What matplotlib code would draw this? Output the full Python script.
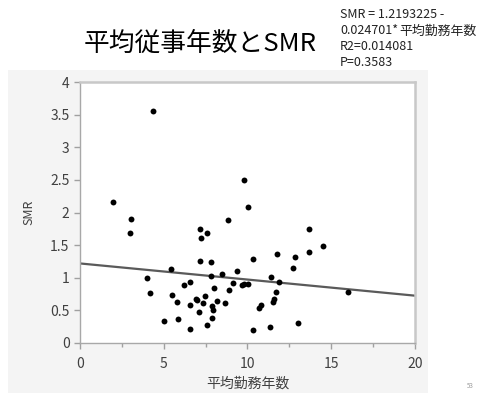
import numpy as np
import matplotlib.pyplot as plt
from matplotlib.patches import Rectangle
from matplotlib.ticker import MultipleLocator

plt.rcParams['font.family'] = ['Noto Sans CJK JP', 'DejaVu Sans']

# 平均勤務年数 と SMR の散布データ
years = [1.99, 3.04, 2.99, 4.38, 4.00, 4.20, 5.01, 5.41, 5.47, 5.79,
         5.83, 6.23, 6.57, 6.55, 6.55, 6.90, 7.00, 7.10, 7.16, 7.22,
         7.56, 7.16, 7.80, 7.80, 7.37, 7.49, 7.60, 7.86, 7.92, 7.86,
         7.98, 8.18, 8.50, 8.68, 8.82, 8.88, 9.12, 9.37, 9.65, 9.81,
         10.01, 9.81, 10.01, 10.31, 10.31, 10.69, 10.81, 11.32, 11.38, 11.50,
         11.58, 11.70, 11.78, 11.88, 12.69, 12.84, 13.01, 13.65, 13.70, 14.53,
         15.98]
smr = [2.16, 1.90, 1.69, 3.55, 0.99, 0.77, 0.33, 1.13, 0.74, 0.63,
       0.37, 0.89, 0.94, 0.59, 0.21, 0.68, 0.66, 0.47, 1.75, 1.61,
       1.68, 1.26, 1.24, 1.02, 0.62, 0.72, 0.27, 0.56, 0.51, 0.38,
       0.84, 0.65, 1.05, 0.61, 1.88, 0.81, 0.92, 1.10, 0.89, 0.90,
       0.91, 2.50, 2.08, 1.28, 0.20, 0.54, 0.59, 0.24, 1.01, 0.63,
       0.67, 0.78, 1.36, 0.93, 1.15, 1.32, 0.30, 1.39, 1.74, 1.48,
       0.78]

# 回帰式
intercept = 1.2193225
slope = -0.024701
r2 = 0.014081
p_value = 0.3583

fig = plt.figure(figsize=(4.8, 3.93), dpi=100)
fig.patch.set_facecolor('white')

# 背景のグレーのパネル
fig.patches.append(Rectangle((8 / 480, 0), 420 / 480, 1 - 70 / 393,
                             transform=fig.transFigure, facecolor='#f4f4f4',
                             edgecolor='none', zorder=-5))

ax = fig.add_axes([80 / 480, 1 - 343 / 393, 335 / 480, 261 / 393])
ax.set_facecolor('white')

ax.scatter(years, smr, s=18, color='black', zorder=3, linewidths=0)

xs = np.array([0, 20])
ax.plot(xs, intercept + slope * xs, color='#5a5a5a', lw=1.6, zorder=2)

ax.set_xlim(0, 20)
ax.set_ylim(0, 4)
ax.xaxis.set_major_locator(MultipleLocator(5))
ax.xaxis.set_minor_locator(MultipleLocator(2.5))
ax.set_yticks([0, 0.5, 1, 1.5, 2, 2.5, 3, 3.5, 4])
ax.set_yticklabels(['0', '0.5', '1', '1.5', '2', '2.5', '3', '3.5', '4'])

for side in ['left', 'bottom']:
    ax.spines[side].set_color('#a8a8a8')
    ax.spines[side].set_linewidth(1.0)
for side in ['top', 'right']:
    ax.spines[side].set_color('#c8c8c8')
    ax.spines[side].set_linewidth(1.8)

ax.tick_params(axis='both', which='major', colors='#a0a0a0', labelcolor='#404040',
               labelsize=10, length=4, width=1)
ax.tick_params(axis='x', which='minor', colors='#a0a0a0', length=3, width=1)
ax.tick_params(axis='x', pad=6)

ax.set_xlabel('平均勤務年数', fontsize=10, color='#404040', labelpad=4)
ax.set_ylabel('SMR', fontsize=9, color='#404040', labelpad=11)

fig.text(200 / 480, 1 - 44 / 393, '平均従事年数とSMR', fontsize=18.5,
         ha='center', va='center', color='black')

# 回帰式の注記（行ごとに配置）
tx = 340 / 480
fs = 9.0
fig.text(tx, 1 - 15 / 393, 'SMR = 1.2193225 -', fontsize=fs,
         ha='left', va='center', color='#222222')
t2 = fig.text(tx, 1 - 31 / 393, '0.024701*', fontsize=fs,
              ha='left', va='center', color='#222222')
ax.annotate('平均勤務年数', xy=(1, 0.5), xycoords=t2, xytext=(1, 0),
            textcoords='offset points', fontsize=9.3, ha='left', va='center',
            color='#222222', annotation_clip=False)
fig.text(tx, 1 - 47 / 393, 'R2=%.6f' % r2, fontsize=fs,
         ha='left', va='center', color='#222222')
fig.text(tx, 1 - 63 / 393, 'P=%.4f' % p_value, fontsize=fs,
         ha='left', va='center', color='#222222')

fig.text(470 / 480, 1 - 386 / 393, '53', fontsize=4.5, ha='center', va='center',
         color='#999999')

fig.savefig('out.png', dpi=100, facecolor='white')
